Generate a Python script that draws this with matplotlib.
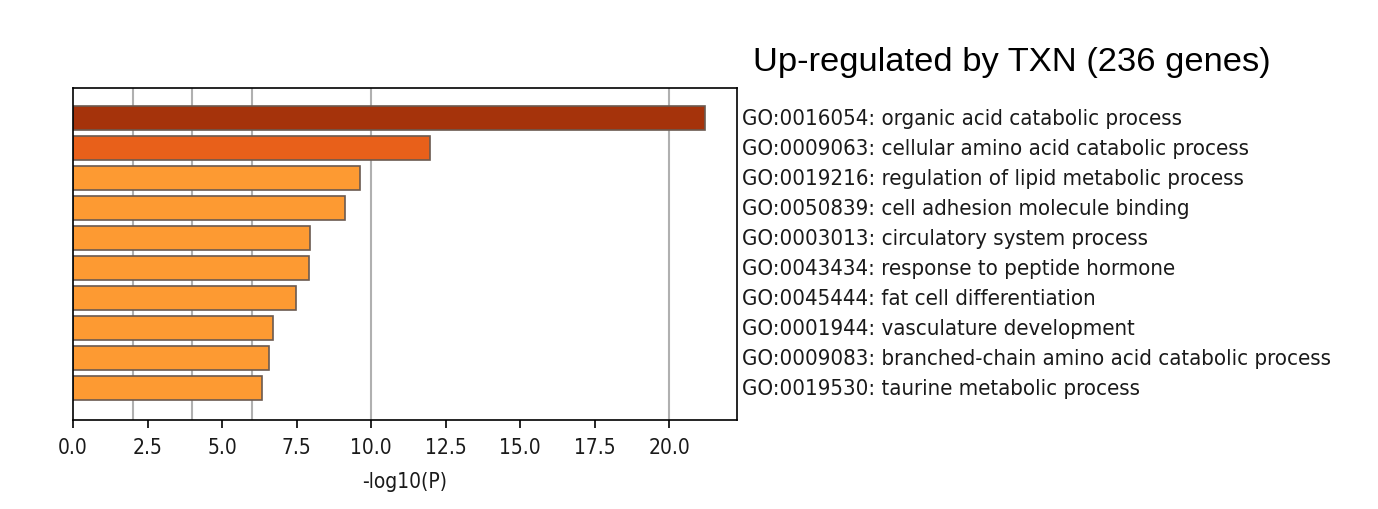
import matplotlib
matplotlib.use("Agg")
import matplotlib.pyplot as plt

terms = [
    "GO:0016054: organic acid catabolic process",
    "GO:0009063: cellular amino acid catabolic process",
    "GO:0019216: regulation of lipid metabolic process",
    "GO:0050839: cell adhesion molecule binding",
    "GO:0003013: circulatory system process",
    "GO:0043434: response to peptide hormone",
    "GO:0045444: fat cell differentiation",
    "GO:0001944: vasculature development",
    "GO:0009083: branched-chain amino acid catabolic process",
    "GO:0019530: taurine metabolic process",
]
values = [21.2, 11.98, 9.63, 9.13, 7.95, 7.92, 7.48, 6.71, 6.58, 6.34]
colors = ["#A5330B", "#E8601A"] + ["#FD9A32"] * 8
grid_x = [2, 4, 6, 10, 20]
xticks = [0, 2.5, 5, 7.5, 10, 12.5, 15, 17.5, 20]
title = "Up-regulated by TXN (236 genes)"

W, H = 1378, 509
fig = plt.figure(figsize=(W / 100, H / 100), dpi=100)
ax = fig.add_axes([73 / W, 1 - 420 / H, (737 - 73) / W, (420 - 88) / H])

ypos = list(range(len(values)))
for g in grid_x:
    ax.axvline(g, color="#b0b0b0", lw=1.5, zorder=0)
ax.barh(ypos, values, height=0.8, color=colors, edgecolor="#6b5a50", linewidth=1.2, zorder=2)
ax.set_ylim(10.07, -1.0)
ax.set_xlim(0, 22.28)
ax.set_yticks([])
ax.set_xticks(xticks)
ax.set_xticklabels([f"{t:.1f}" for t in xticks], fontsize=15, fontstretch="condensed",
                   color="#1a1a1a")
ax.tick_params(axis="x", length=6, width=1.2, pad=7)
ax.set_xlabel("-log10(P)", fontsize=15, fontstretch="condensed", labelpad=10, color="#1a1a1a")
for s in ax.spines.values():
    s.set_linewidth(1.2)

for y, t in zip(ypos, terms):
    ax.text(1.008, y + 0.03, t, transform=ax.get_yaxis_transform(), va="center", ha="left",
            fontsize=15.9, fontstretch="condensed", color="#1a1a1a")

fig.text(1012 / W, 1 - 62 / H, title, ha="center", va="center", fontsize=24.8,
         family="Liberation Sans")

fig.savefig("out.png", dpi=100)
